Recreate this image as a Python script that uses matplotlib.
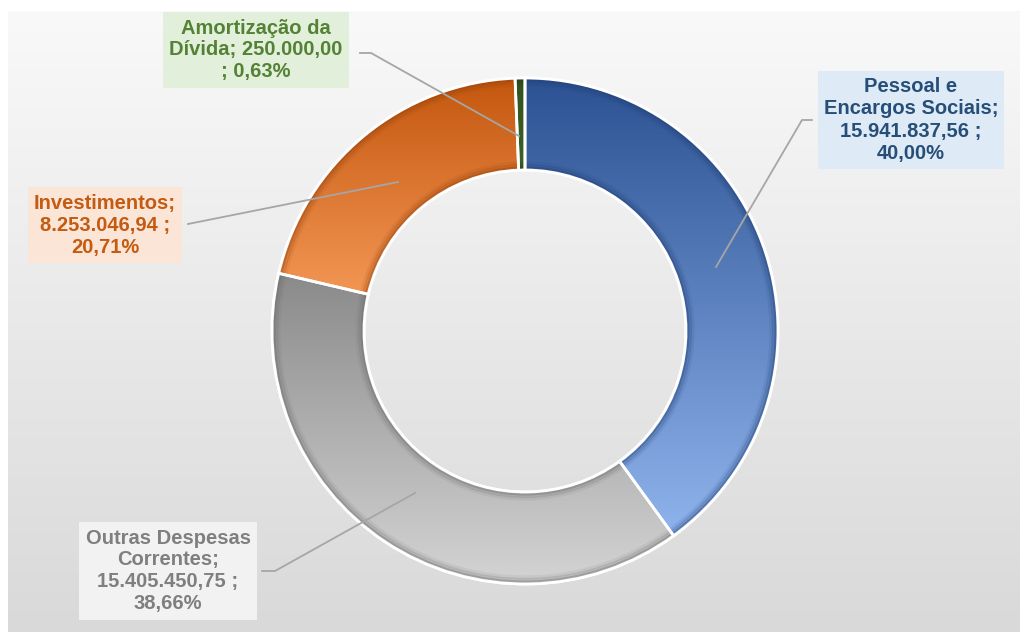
import numpy as np
import matplotlib.pyplot as plt
from matplotlib.patches import Wedge, Arc
from matplotlib.colors import LinearSegmentedColormap

# Despesas por grupo de natureza (valores em R$)
categories = ["Pessoal e Encargos Sociais", "Outras Despesas Correntes",
              "Investimentos", "Amortização da Dívida"]
values = [15941837.56, 15405450.75, 8253046.94, 250000.00]

# gradient of each slice: (top colour, bottom colour)
slice_colors = [("#2c5293", "#8fb3ec"), ("#8a8a8a", "#d4d4d4"),
                ("#c4570f", "#fba160"), ("#32511f", "#4f7d32")]
rim_colors = ["#1f3d70", "#666666", "#8f3f0a", "#22381a"]
text_colors = ["#264e78", "#7f7f7f", "#c55a11", "#548235"]
box_colors = ["#deebf7", "#f2f2f2", "#fbe5d6", "#e2efda"]


def br(x):
    # 15941837.56 -> 15.941.837,56
    s = f"{x:,.2f}"
    return s.replace(",", "X").replace(".", ",").replace("X", ".")


total = sum(values)
pcts = [br(v / total * 100) + "%" for v in values]
labels = [
    f"Pessoal e\nEncargos Sociais;\n{br(values[0])} ;\n{pcts[0]}",
    f"Outras Despesas\nCorrentes;\n{br(values[1])} ;\n{pcts[1]}",
    f"Investimentos;\n{br(values[2])} ;\n{pcts[2]}",
    f"Amortização da\nDívida; {br(values[3])}\n; {pcts[3]}",
]

W, H = 1027, 637
fig = plt.figure(figsize=(W / 100, H / 100), dpi=100)
fig.patch.set_facecolor("white")
ax = fig.add_axes([0, 0, 1, 1])


def Y(y_top):
    return H - y_top


cx, cy, r_out, r_in = 525, Y(331), 253, 161
wedges, _ = ax.pie(values, startangle=90, counterclock=False, center=(cx, cy),
                   radius=r_out, frame=True,
                   colors=[c[1] for c in slice_colors],
                   wedgeprops=dict(width=r_out - r_in, edgecolor="white", linewidth=2))
ax.set_xlim(0, W)
ax.set_ylim(0, H)
ax.set_aspect("equal")
ax.axis("off")

# chart area background (light grey gradient)
bg = LinearSegmentedColormap.from_list("bg", ["#d9d9d9", "#f9f9f9"])
ax.imshow(np.linspace(0, 1, 256).reshape(-1, 1), cmap=bg, aspect="auto",
          extent=(8, 1020, H - 632, H - 11), origin="lower", zorder=0)
ax.set_xlim(0, W)
ax.set_ylim(0, H)

# fake the shaded look with a vertical gradient clipped to each wedge
for w, (c_top, c_bot), rc in zip(wedges, slice_colors, rim_colors):
    w.set_zorder(2)
    verts = w.get_path().vertices
    y0, y1 = verts[:, 1].min(), verts[:, 1].max()
    x0, x1 = verts[:, 0].min(), verts[:, 0].max()
    cm = LinearSegmentedColormap.from_list("s", [c_bot, c_top])
    im = ax.imshow(np.linspace(0, 1, 256).reshape(-1, 1), cmap=cm, aspect="auto",
                   extent=(x0, x1, y0, y1), origin="lower", zorder=2)
    im.set_clip_path(w)
    # softer bevel along the rims: a few stacked faint arcs
    for k, a in enumerate([0.35, 0.2, 0.1]):
        for rr in (r_out - 1.5 - 2.5 * k, r_in + 1.5 + 2.5 * k):
            arc = Arc((cx, cy), 2 * rr, 2 * rr, theta1=w.theta1, theta2=w.theta2,
                      color=rc, linewidth=3, alpha=a, zorder=2.5)
            ax.add_patch(arc)
            arc.set_clip_path(w)
    # white separator on top
    ax.add_patch(Wedge((cx, cy), r_out, w.theta1, w.theta2, width=r_out - r_in,
                       facecolor="none", edgecolor="white", linewidth=2, zorder=3))

# labels: box centre (x, y from top) and leader line points
label_pos = [(911, 120), (168, 571), (105, 225), (256, 50)]
leaders = [
    [(812, 120), (802, 120), (716, 267)],
    [(262, 571), (275, 571), (415, 493)],
    [(188, 224), (398, 182)],
    [(360, 53), (371, 53), (519, 136)],
]

for lab, (x, y), tc, bc, pts in zip(labels, label_pos, text_colors, box_colors, leaders):
    ax.text(x, Y(y), lab, ha="center", va="center", multialignment="center",
            fontsize=14.5, fontweight="bold", family="Liberation Sans", color=tc,
            linespacing=1.2, zorder=5,
            bbox=dict(boxstyle="square,pad=0.3", facecolor=bc, edgecolor="none"))
    xs = [p[0] for p in pts]
    ys = [Y(p[1]) for p in pts]
    ax.plot(xs, ys, color="#a6a6a6", linewidth=1.3, zorder=4)

fig.savefig("out.png", dpi=100)
